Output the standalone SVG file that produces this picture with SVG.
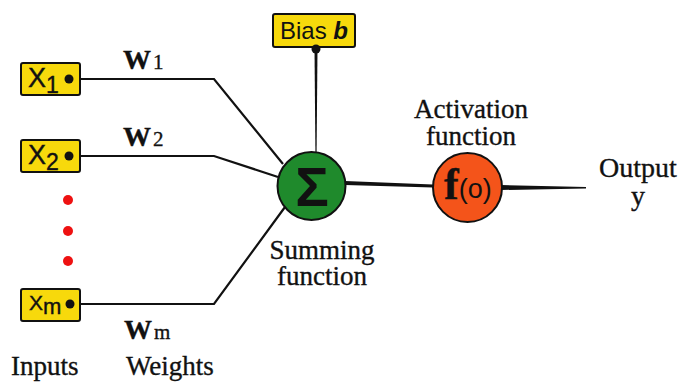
<svg xmlns="http://www.w3.org/2000/svg" width="681" height="383" viewBox="0 0 681 383">
  <style>
    .box { fill: #f7d90c; stroke: #111; stroke-width: 2; }
    .sans { font-family: "Liberation Sans", Arial, sans-serif; fill: #111; }
    .serif { font-family: "Liberation Serif", "Times New Roman", serif; fill: #111; stroke: #111; stroke-width: 0.35; }
    .lbl { font-size: 27px; }
    .wire { fill: none; stroke: #111; stroke-width: 2.2; stroke-linejoin: miter; }
    .pin { fill: #111; }
    .dot { fill: #ee1111; }
  </style>

  <rect width="681" height="383" fill="#ffffff"/>

  <!-- connectors -->
  <g id="connectors">
    <polyline class="wire" points="69,79 214,79 283,164"/>
    <polyline class="wire" points="69,156 214,156 278,177"/>
    <polyline class="wire" points="69,304 214,304 285,207"/>
    <polygon points="314.5,49 317.5,49 316.6,152 315.4,152" fill="#111"/>
    <polygon points="345,181 433,184.5 433,187.5 345,185" fill="#111"/>
    <polygon points="501,185 586,187 586,188.5 501,190" fill="#111"/>
  </g>

  <!-- input x1 -->
  <g id="input-x1">
    <rect class="box" x="21" y="63" width="59" height="32" rx="2"/>
    <text class="sans" x="28" y="87" font-size="27" stroke="#111" stroke-width="0.4">X<tspan font-size="23" dy="6">1</tspan></text>
    <circle class="pin" cx="69" cy="79" r="4.5"/>
  </g>

  <!-- input x2 -->
  <g id="input-x2">
    <rect class="box" x="21" y="140" width="59" height="32" rx="2"/>
    <text class="sans" x="28" y="164" font-size="27" stroke="#111" stroke-width="0.4">X<tspan font-size="23" dy="6">2</tspan></text>
    <circle class="pin" cx="69" cy="156" r="4.5"/>
  </g>

  <!-- ellipsis between inputs -->
  <g id="ellipsis">
    <circle class="dot" cx="68" cy="200" r="5"/>
    <circle class="dot" cx="68" cy="231" r="5"/>
    <circle class="dot" cx="68" cy="261" r="5"/>
  </g>

  <!-- input xm -->
  <g id="input-xm">
    <rect class="box" x="21" y="289" width="59" height="32" rx="2"/>
    <text class="sans" x="29" y="310" font-size="21" stroke="#111" stroke-width="0.4">X<tspan font-size="22" dy="4">m</tspan></text>
    <circle class="pin" cx="70" cy="304" r="4.5"/>
  </g>

  <!-- weights -->
  <g id="weight-w1">
    <text class="serif" x="123" y="69"><tspan font-size="28" font-weight="bold">W</tspan><tspan font-size="21" dx="2">1</tspan></text>
  </g>
  <g id="weight-w2">
    <text class="serif" x="123" y="146"><tspan font-size="28" font-weight="bold">W</tspan><tspan font-size="21" dx="2">2</tspan></text>
  </g>
  <g id="weight-wm">
    <text class="serif" x="124" y="339"><tspan font-size="28" font-weight="bold">W</tspan><tspan font-size="21" dx="2">m</tspan></text>
  </g>

  <!-- bias -->
  <g id="bias">
    <rect class="box" x="273" y="14" width="82" height="33" rx="2"/>
    <text class="sans" x="280" y="39" font-size="24">Bias <tspan font-style="italic" font-weight="bold">b</tspan></text>
    <circle class="pin" cx="316" cy="49" r="4.5"/>
  </g>

  <!-- summing junction -->
  <g id="summing">
    <circle cx="311.5" cy="186" r="34" fill="#1f8a2c" stroke="#111" stroke-width="2"/>
    <text class="sans" x="312" y="206" font-size="56" font-weight="bold" text-anchor="middle">Σ</text>
    <text class="serif lbl" x="322" y="259" text-anchor="middle">Summing</text>
    <text class="serif lbl" x="322" y="285" text-anchor="middle">function</text>
  </g>

  <!-- activation -->
  <g id="activation">
    <circle cx="467.5" cy="187.5" r="34.5" fill="#f4541a" stroke="#111" stroke-width="2"/>
    <text x="444" y="199"><tspan class="serif" font-size="44" font-weight="bold">f</tspan><tspan class="sans" font-size="27" dy="-1">(o)</tspan></text>
    <text class="serif lbl" x="471" y="118" text-anchor="middle">Activation</text>
    <text class="serif lbl" x="471" y="145" text-anchor="middle">function</text>
  </g>

  <!-- output -->
  <g id="output">
    <text class="serif" x="638" y="177" font-size="28" text-anchor="middle">Output</text>
    <text class="serif" x="638" y="205" font-size="28" text-anchor="middle">y</text>
  </g>

  <!-- column captions -->
  <g id="captions">
    <text class="serif lbl" x="11" y="375">Inputs</text>
    <text class="serif lbl" x="126" y="375">Weights</text>
  </g>
</svg>
